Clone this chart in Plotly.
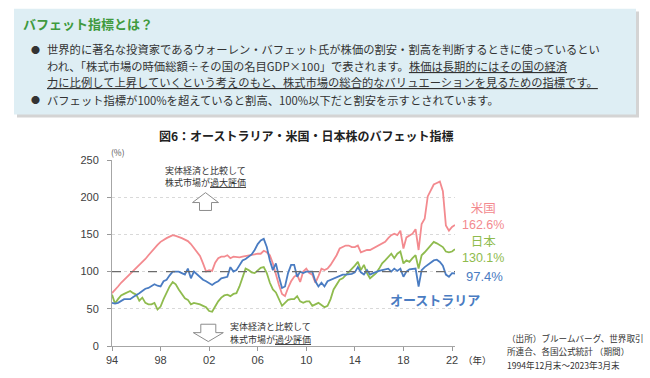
import plotly.graph_objects as go

# ---------------- data (quarter-end, Dec 1994 .. Mar 2023) ----------------
start_year, start_month = 1994, 12
end_year, end_month = 2023, 3

us_values = [71,
    75, 80, 85, 89,      # 1995
    93, 97, 100, 104,    # 1996
    109, 113, 117, 122,  # 1997
    127, 131, 136, 140,  # 1998
    143, 145, 147, 149,  # 1999
    148, 147, 145, 143,  # 2000
    141, 137, 132, 126,  # 2001
    121, 111, 100, 102,  # 2002
    101, 112, 118, 120,  # 2003
    120, 122, 118, 120,  # 2004
    119, 119, 120, 121,  # 2005
    122, 122, 124, 124,  # 2006
    124, 128, 126, 122,  # 2007
    111, 95, 82, 70,     # 2008
    67, 78, 87, 93,      # 2009
    96, 86, 100, 104,    # 2010
    98, 96, 85, 94,      # 2011
    104, 102, 104, 109,  # 2012
    115, 122, 131, 133,  # 2013
    135, 135, 133, 133,  # 2014
    135, 126, 128, 129,  # 2015
    129, 131, 133, 135,  # 2016
    137, 140, 145, 149,  # 2017
    151, 149, 155, 131,  # 2018
    146, 149, 151, 157,  # 2019
    129, 164, 171, 201,  # 2020
    208, 217, 219, 221,  # 2021
    208, 162, 155, 160,  # 2022
    162.6]               # 2023

jp_values = [69,
    57, 63, 68, 70,      # 1995
    72, 74, 71, 69,      # 1996
    61, 65, 58, 56,      # 1997
    56, 58, 49, 53,      # 1998
    63, 72, 80, 86,      # 1999
    83, 76, 70, 64,      # 2000
    62, 56, 58, 57,      # 2001
    56, 54, 52, 47,      # 2002
    46, 53, 60, 65,      # 2003
    68, 69, 67, 70,      # 2004
    71, 80, 92, 104,     # 2005
    102, 99, 98, 102,    # 2006
    105, 106, 98, 85,    # 2007
    76, 72, 62, 54,      # 2008
    58, 62, 63, 63,      # 2009
    67, 60, 58, 60,      # 2010
    60, 54, 56, 58,      # 2011
    55, 52, 54, 63,      # 2012
    76, 82, 89, 91,      # 2013
    95, 100, 104, 108,   # 2014
    113, 102, 109, 98,   # 2015
    91, 95, 98, 104,     # 2016
    111, 115, 120, 124,  # 2017
    118, 124, 127, 111,  # 2018
    115, 113, 118, 122,  # 2019
    104, 122, 126, 131,  # 2020
    135, 140, 138, 136,  # 2021
    133, 127, 126, 127,  # 2022
    130.1]               # 2023

au_values = [58,
    57, 58, 61, 63,      # 1995
    63, 63, 66, 68,      # 1996
    71, 74, 77, 78,      # 1997
    80, 83, 81, 80,      # 1998
    87, 89, 95, 100,     # 1999
    100, 100, 98, 96,    # 2000
    104, 91, 100, 96,    # 2001
    92, 89, 87, 85,      # 2002
    82, 85, 87, 91,      # 2003
    92, 93, 106, 100,    # 2004
    102, 109, 115, 117,  # 2005
    120, 123, 129, 137,  # 2006
    142, 144, 133, 115,  # 2007
    102, 111, 93, 78,    # 2008
    80, 98, 109, 109,    # 2009
    93, 100, 98, 100,    # 2010
    100, 100, 87, 80,    # 2011
    85, 80, 87, 89,      # 2012
    91, 93, 94, 96,      # 2013
    96, 96, 97, 99,      # 2014
    106, 99, 96, 102,    # 2015
    96, 98, 100, 101,    # 2016
    102, 103, 104, 100,  # 2017
    104, 101, 104, 93,   # 2018
    100, 103, 104, 104,  # 2019
    80, 102, 106, 109,   # 2020
    113, 115, 116, 113,  # 2021
    108, 96, 93, 98,     # 2022
    97.4]                # 2023

tick_years = [1994, 1998, 2002, 2006, 2010, 2014, 2018, 2022]
tick_labels = ["94", "98", "02", "06", "10", "14", "18", "22"]
y_ticks = [0, 50, 100, 150, 200, 250]

# quarter-end dates
month_end = {3: 31, 6: 30, 9: 30, 12: 31}
dates = []
y, m = start_year, start_month
while (y, m) <= (end_year, end_month):
    dates.append(f"{y}-{m:02d}-{month_end[m]}")
    m += 3
    if m > 12:
        m -= 12
        y += 1

US_C = "#f38a8f"
JP_C = "#8fbb4e"
AU_C = "#4a7cc2"
JPF = "Noto Sans CJK JP"
LATF = "Liberation Sans, Arial"

W, H = 650, 378
L, R, T, B = 112, 455, 160, 348


def px(x):
    return (x - L) / (R - L)


def py(yv):
    return (B - yv) / (B - T)


fig = go.Figure()
fig.add_trace(go.Scatter(x=dates, y=us_values, mode="lines", line=dict(color=US_C, width=1.8), name="米国"))
fig.add_trace(go.Scatter(x=dates, y=jp_values, mode="lines", line=dict(color=JP_C, width=1.8), name="日本"))
fig.add_trace(go.Scatter(x=dates, y=au_values, mode="lines", line=dict(color=AU_C, width=1.8), name="オーストラリア"))

shapes = []
# info box shadow + box
shapes.append(dict(type="rect", xref="paper", yref="paper", x0=px(17), x1=px(639), y0=py(10), y1=py(117),
                   fillcolor="#d4d4d4", line=dict(width=0), layer="below"))
shapes.append(dict(type="rect", xref="paper", yref="paper", x0=px(14), x1=px(636), y0=py(7), y1=py(114),
                   fillcolor="#deeef4", line=dict(width=0), layer="below"))
# 100% reference line
shapes.append(dict(type="line", xref="paper", yref="y", x0=0, x1=1, y0=100, y1=100,
                   line=dict(color="#6b6b6b", width=1.4, dash="dash")))


def arrow_up(cx, tip, base, bottom, hw, sw):
    return (f"M {px(cx)} {py(tip)} L {px(cx+hw)} {py(base)} L {px(cx+sw)} {py(base)} "
            f"L {px(cx+sw)} {py(bottom)} L {px(cx-sw)} {py(bottom)} L {px(cx-sw)} {py(base)} "
            f"L {px(cx-hw)} {py(base)} Z")


def path_paper(d):
    return dict(type="path", xref="paper", yref="paper", path=d, fillcolor="white",
                line=dict(color="#8c8c8c", width=1))

shapes.append(path_paper(arrow_up(205.5, 193, 203, 211, 13, 6)))
shapes.append(path_paper(arrow_up(208.3, 343.5, 334.5, 326, 15, 7.5)))

ann = []


def text(x, yv, s, size, color="#333333", family=JPF, anchor="left", bold=False):
    if bold:
        s = f"<b>{s}</b>"
    ann.append(dict(xref="paper", yref="paper", x=px(x), y=py(yv), text=s, showarrow=False,
                    xanchor=anchor, yanchor="middle", align="center" if anchor == "center" else "left",
                    font=dict(size=size, color=color, family=family)))

# info box text
text(21, 22, "バフェット指標とは？", 13, color="#3f9a3e", bold=True)
text(29, 48, "●", 9)
text(29, 99, "●", 9)
text(45, 48, "世界的に著名な投資家であるウォーレン・バフェット氏が株価の割安・割高を判断するときに使っているとい", 11.3)
text(45, 64.5, "われ、「株式市場の時価総額÷その国の名目GDP×100」で表されます。<u>株価は長期的にはその国の経済</u>", 11.3)
text(45, 81, "<u>力に比例して上昇していくという考えのもと、株式市場の総合的なバリュエーションを見るための指標です。</u>", 11.3)
text(45, 99, "バフェット指標が100%を超えていると割高、100%以下だと割安を示すとされています。", 11.3)

# chart title
text(306, 135, "図6：オーストラリア・米国・日本株のバフェット指標", 12, color="#222222", anchor="center", bold=True)
text(118, 152, "(%)", 8.5, color="#555555", anchor="center")

# over/under valuation notes
text(205.5, 170.5, "実体経済と比較して", 9, anchor="center")
text(205.5, 183, "株式市場が<u>過大評価</u>", 9, anchor="center")
text(270, 328.5, "実体経済と比較して", 9, anchor="center")
text(270, 341, "株式市場が<u>過少評価</u>", 9, anchor="center")

# series labels
num = "font-family:Liberation Sans, Arial"
text(483, 215.5, f"米国<br><span style='{num}'>162.6%</span>", 12.5, color=US_C, anchor="center")
text(483, 248.5, f"日本<br><span style='{num}'>130.1%</span>", 12.5, color=JP_C, anchor="center")
text(484.5, 277.5, "97.4%", 13, color=AU_C, family=LATF, anchor="center")
text(435, 301.5, "オーストラリア", 13, color=AU_C, anchor="center", bold=True)

# axis unit and source
text(477, 362, "（年）", 9.5, anchor="center")
text(505, 340, "（出所）ブルームバーグ、世界取引", 8.6)
text(505, 353.5, "所連合、各国公式統計 （期間）", 8.6)
text(505, 367, "1994年12月末～2023年3月末", 8.6)

fig.update_layout(
    width=W, height=H,
    margin=dict(l=L, r=W - R, t=T, b=H - B, pad=0),
    paper_bgcolor="white", plot_bgcolor="white",
    showlegend=False,
    shapes=shapes, annotations=ann,
    font=dict(family=LATF, color="#404040"),
)
fig.update_xaxes(
    type="date",
    range=[dates[0], dates[-1]],
    tickmode="array",
    tickvals=[f"{yr}-12-31" for yr in tick_years],
    ticktext=tick_labels,
    ticks="outside", ticklen=4, tickcolor="#999999",
    showline=True, linecolor="#a6a6a6", linewidth=1,
    showgrid=False, zeroline=False,
    tickfont=dict(size=11, color="#404040", family=LATF),
)
fig.update_yaxes(
    range=[0, 250],
    tickmode="array", tickvals=y_ticks,
    ticks="outside", ticklen=4, tickcolor="#999999",
    showline=True, linecolor="#a6a6a6", linewidth=1,
    showgrid=True, gridcolor="#d9d9d9", griddash="dot", gridwidth=1,
    zeroline=False, ticklabelstandoff=6,
    tickfont=dict(size=11, color="#404040", family=LATF),
)

fig.write_html("out.html", config={"displayModeBar": False},
               post_script="document.body.style.margin='0';document.body.style.overflow='hidden';")
